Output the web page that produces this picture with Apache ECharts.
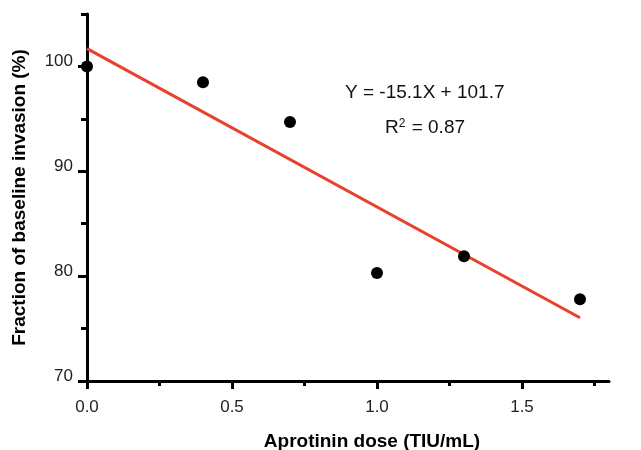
<!DOCTYPE html>
<html><head><meta charset="utf-8">
<script src="https://cdn.jsdelivr.net/npm/echarts@6/dist/echarts.min.js"></script>
<style>html,body{margin:0;padding:0;background:#fff}#c{width:641px;height:450px}</style>
</head><body><div id="c"></div>
<script>
const doses = [0, 0.4, 0.7, 1.0, 1.3, 1.7];
const invasion = [100, 98.5, 94.7, 80.3, 81.9, 77.8];
const slope = -15.1;
const intercept = 101.7;
const fitX = [0, 1.7];
const xMajorTicks = [0, 0.5, 1.0, 1.5];
const xMinorTicks = [0.25, 0.75, 1.25, 1.75];
const yMajorTicks = [70, 80, 90, 100];
const yMinorTicks = [75, 85, 95, 105];
const eqText = 'Y = -15.1X + 101.7';
const r2Text = '{b|R}{s|2}{b| = 0.87}';

const font = '"Liberation Sans", Arial, Helvetica, sans-serif';
const chart = echarts.init(document.getElementById('c'), null, {renderer: 'canvas'});
const axisLine = {show: true, lineStyle: {color: '#000', width: 3}};
const grid = {left: 87, right: 32, top: 14, bottom: 69, containLabel: false, outerBoundsMode: 'none'};
chart.setOption({
  animation: false,
  backgroundColor: '#fff',
  grid: grid,
  xAxis: [{
    type: 'value', min: 0, max: 1.8, interval: 0.5,
    axisLine: axisLine,
    splitLine: {show: false},
    axisTick: {show: true, customValues: xMajorTicks, length: 8, lineStyle: {color: '#000', width: 3}},
    axisLabel: {customValues: xMajorTicks, formatter: v => v.toFixed(1), color: '#222', fontSize: 17, fontFamily: font, margin: 18},
    name: 'Aprotinin dose (TIU/mL)', nameLocation: 'middle', nameGap: 51,
    nameTextStyle: {fontSize: 19, fontWeight: 'bold', color: '#000', fontFamily: font, padding: [0, 0, 0, 48]}
  }, {
    type: 'value', min: 0, max: 1.8, position: 'bottom', gridIndex: 0,
    axisLine: {show: false}, splitLine: {show: false},
    axisTick: {show: true, customValues: xMinorTicks, length: 5, lineStyle: {color: '#000', width: 3}},
    axisLabel: {show: false}
  }],
  yAxis: [{
    type: 'value', min: 70, max: 105, interval: 10,
    axisLine: axisLine,
    splitLine: {show: false},
    axisTick: {show: true, customValues: yMajorTicks, length: 9, lineStyle: {color: '#000', width: 3}},
    axisLabel: {customValues: yMajorTicks, color: '#222', fontSize: 17, fontFamily: font, margin: 14, verticalAlign: 'bottom', lineHeight: 10},
    name: 'Fraction of baseline invasion (%)', nameLocation: 'middle', nameGap: 58,
    nameTextStyle: {fontSize: 19, fontWeight: 'bold', color: '#000', fontFamily: font}
  }, {
    type: 'value', min: 70, max: 105, position: 'left',
    axisLine: {show: false}, splitLine: {show: false},
    axisTick: {show: true, customValues: yMinorTicks, length: 6, lineStyle: {color: '#000', width: 3}},
    axisLabel: {show: false}
  }],
  series: [{
    type: 'line',
    data: fitX.map(x => [x, intercept + slope * x]),
    symbol: 'none',
    lineStyle: {color: '#e8412c', width: 3},
    z: 2
  }, {
    type: 'scatter',
    data: doses.map((d, i) => [d, invasion[i]]),
    symbol: 'circle', symbolSize: 12,
    itemStyle: {color: '#000', opacity: 1},
    z: 3
  }],
  graphic: [{
    type: 'text', left: 345, top: 83,
    style: {text: eqText, fontSize: 19, fontFamily: font, fill: '#111'}
  }, {
    type: 'text', left: 385, top: 118,
    style: {
      text: r2Text, fontFamily: font, fill: '#111',
      rich: {b: {fontSize: 19, fontFamily: font, fill: '#111'}, s: {fontSize: 12, fontFamily: font, fill: '#111', verticalAlign: 'top', padding: [0, 1, 7, 0]}}
    }
  }]
});
</script></body></html>
